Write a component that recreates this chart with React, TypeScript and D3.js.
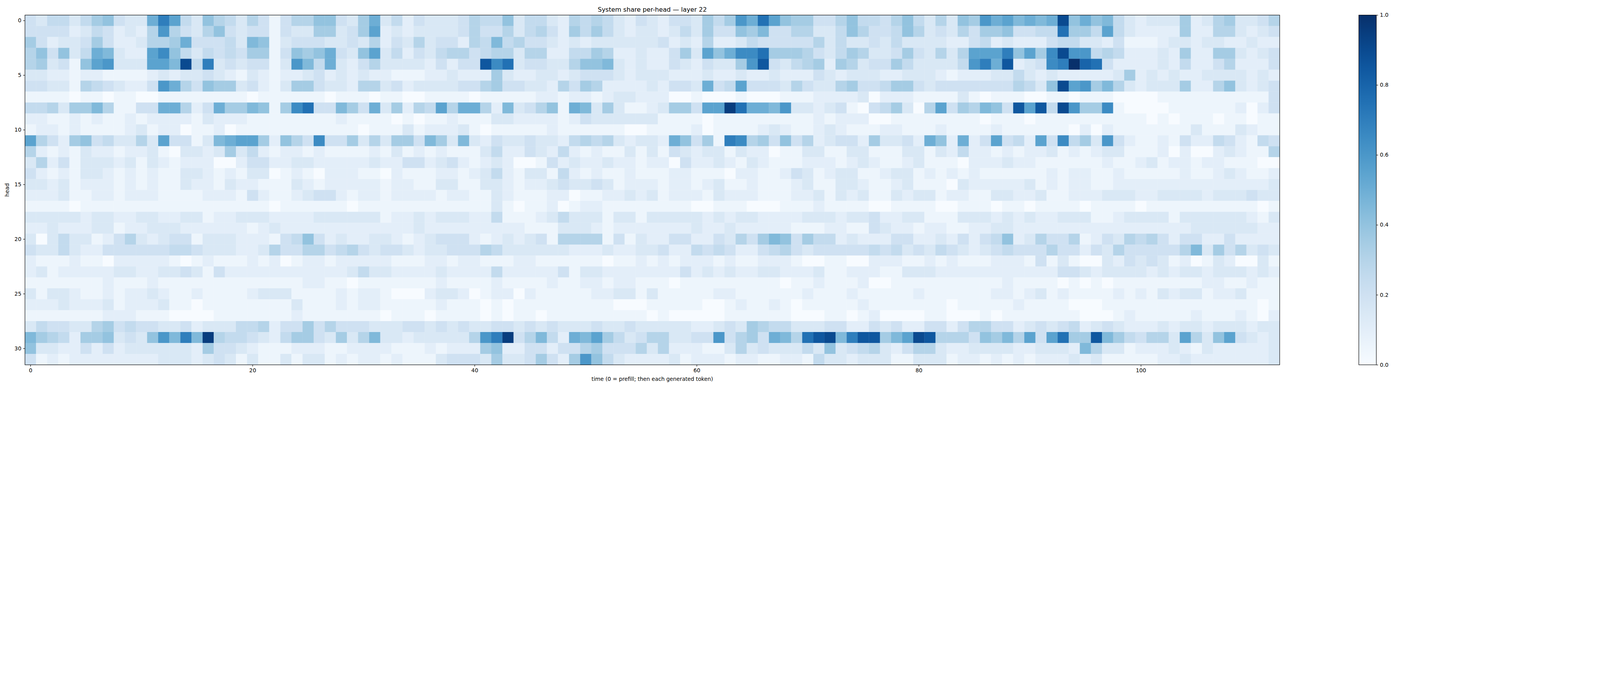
import * as d3 from "d3";
import { useEffect, useRef } from "react";

// each letter is one cell: a = 0.00, b = 0.05, c = 0.10 ... u = 1.00
// rows are heads 0..31, columns are time steps 0..112 (spaces are ignored)
const headRows: string[] = [
  "edffdfhieddkolfdigfdgebeggii edhkdfcedddegffidffdcgfgfdced ceedhfhmkplihheegiffegifdgdi hmkljkjksikijfdcdddhcdghddeg",
  "eeeecdfecdcgmgedgiedeebeddhh dehlcdcddddegeegdfgechfhfdcdd cdfdheeihjeeggddfigeefigdedg ehhieeffphhflfdcccchccggdcde",
  "hecddeheccdgghkeeefdjibdeeed dedgcedgdeecgfjfgeedcdcdddddd ecdcgccdfeeeeegdfddedfddddcc efcdccceffddcebbbcddcddccdcc",
  "gieidfkjdcclnifdfefehhbeihik edildfcedfggefggdggccffhgccdc cehdliknnphhhgedfhgddehedgdg llloilhnsmmfgfcccdchcchhdcde",
  "ghdebilmdddlljsfodedeebdmjfk dcegddddceceernpdeeddgiijdcdc cedceddhmredfghchgdeehfddddf mokrcdenouqpeccccdcfccegccce",
  "ddccbccbbbbcdcddedcbdcbccdec dcdccbbbccdccchdccddcdeeedcdd dcccdccdccdcccedcdddccdddcbc ccddfdcdcccccdhcdcdccddddcdc",
  "eeddbgfedccemkgeihhdecbdhhed dcggdecddddeegheeddcgehgccccd ceedkefleeedgeddgheefhhedeee eeeegfdislmhjgdcdddhccgidcde",
  "bbbbabbabbaabbbbbbbbabbbbbba bbbabbaabbbbabbbbbccbccbcddcc caabaaabaaabbbccccdacccbbbbd babbbaabbabbbaaaabbbbbbbbbbe",
  "ffgdhhjgbbeekkgcekhhjibhnpee jhekdhcgflgkkgcjdegibkjdhdbbc dhhelltpkkjmddcdebaefhdagleh gjierlrfsmhhnbaaaabbbbbbcace",
  "ccbbcbcbbcbccccbdcccbbbbbbbb cbbbbababbcbbbddccccbcedddddd bbbbabbbbbbbbbcbcccaabbbbbbb babbbabbbbbbbbbbababbbabbabb",
  "bccbcbbbbcdbccabbcabbbbbbbbb bbabbbdbcccdbabbbbbcbbbbbbaab bbbcabbbbcdcbbcdcbbbccbbbcbb bbcbbbbbbacacbbbbbbbdbbbdcbb",
  "lgechiefddgdleebdjkllhcigene ehdgdhhejhdjdceddeddcfgfgdcdd ckiehbongheiegcdeechddeckick celefclenfhdmecbbcbeccfecbfe",
  "gcbcbdccbccdbaddcdhdfcbccbcb bbbcbdbcbcbbbdfccedcfcbcbbdbd bedcddbdccabbddbbddbbbddbdcf ccbcbccdbcbcddbbbcacaacdcbbg",
  "dgcebdddcdbdcbcccaaceeccddcc cccdcceecdecbcdcaabecdccdccbc caeccdcbdcbbbcccbcdcbbcdbbba cccdccbbbbbbcbbcdbccbccbbbaa",
  "ecbcbddcbcbcbbddcbcbddabcbac ccbbacbbbccbcdfcbddbfcbcbbcbb bccbbbaccbbcedbcddbbcddbcbcb cbbbbbbcbccbbcbbbbbcbbcdcbbc",
  "ddcdbcccbcbcbbdccbdccbbbdcbc ccccbccbbddbbddcbccdeddedbccc bccbcdbbcbbbcdbbddcbbcdbbbad cccccdbcbccbbccccccccccccccd",
  "cccdbbccbcccbbbbcccbecbbcdee cbccbccccbccbbdcbbbccabbccdcd bcccbdcccbbbccdbdcdbbdcddbcc bbddccdbbcccdddccddddcdddedd",
  "bbbbabbbbbbbbbbbbbbbbbabbbbb babbbbbbbbbbbbdbabbcabccbbbbb bbbaabbbaaabbbcbbbbaabbbbaab bbabbabbbbabbbbabbbbbbbbbbab",
  "dddddcddccddccddbccdddccccdd ddddbccdcdddccfbbbcdfdddbddbd ddddcdcddccccdddcddeccddbbbd ddcdcdccdddbbcddddbddddddcbd",
  "ccdcccddbccdddccccccbcdccccc cccccccdcccccccccbbbdddcbcccc cccdccdcccccbbbccbbedccbccbb ccddccccccccccccccccddddddcc",
  "dadfddbcegdcdeebdddcccbefiec dccddcbcdeeecbcdcdebggggbebdc ceeccedgehjiehffcdccceeccdce ceficdgeegbcedgfgeceeccecccc",
  "eddfdcceeeeeeffedddccdgeegge fgedeedcddeeegfddddddcccdccdd eccfefeccefgedeeeeefefdedfed cdefeeegeecedgeeeeegjdhegded",
  "cbbbcbbacccccbabcbbbcbcabccb cccccbbbccbccbbbccbbbbbbabbcb cbcccbcbbcccbaabbaacccbbcbcb bbcccbebdbaadcededbcabdcaadb",
  "cdbcccccddccddedbecccccccccc cdfddccccdccccfcccccebddccccc ccecdcdccddcccdbbcccbbdddccc cccccccceedcddddcdcddcdddcdc",
  "bbbbbbbcbbbcbbbbbbbbbbbbbccb babbbbbbbcbbbbcbbbbcbbccbccbb babbbbbbbbbabbcbbbcaabbbbbbb bbbcbbbbabababbbbbbbbccbbcbb",
  "dbddcbbcbccdcbbcbbbbcdddbbbb cbccbaaacddcabccacbbbbbccddbd bbbbbccbbbbbbcbbbcbbbbbcbbbb bbccbcdbcbbbbcbcbdcddbccdbbb",
  "cccdcccdbcccdbbabbbbbbbbdbbb cbccbbbbbcbbbababbbbbbbbbaaab bbbbaabcbbcbabbbbbcbbbbbbbab bbbbcbbbbaaabbbbbbbbbbbbbbab",
  "bbbbbbbcccbbbaaaabbbbbbbcbbb bbbbabbbabbbbababbabbbbbbbbba baaaaabbbbbbaaabbabcaaaabbaa ababbbbbbbaaabcbbbbbcbbbcbac",
  "dfeeddghefeeddecdddffgceeheg eeedd deede dedde edede ddded dedd dddcc dedhg ffddd eecce decce ece ggeec dedef cdedc ccdcd dcddd cdd",
  "jhgfc hhide dimjo jtgff edcfh hed hdgjd dcddd ddgmo tegjf ckjlh fdeg gddee meghe kjgpr sjorr hjlsr ggg eihjg lelph hrjhf eggdl gdile dcd",
  "iddcc ececd ddddd cheed cbbbc ccb bcccc bbbcb ccchi cceec eeghe eegd gcccb bdgde dddfd idefg dcegg dcc ddddc cdddc jgddb cccdc bdccc ccd",
  "ebcbc ccccc ccddd cdedb dbbdb ddb cbccb cbbbd eeedh ddehe chmif dccc cdbcc cbccb bccbf ddcdd dbbdd dbc cbcbc bcccd cdbbb bbccd ccccc ccd",
];

const xTicks = [0, 20, 40, 60, 80, 100];
const yTicks = [0, 5, 10, 15, 20, 25, 30];
const cbTicks = [0.0, 0.2, 0.4, 0.6, 0.8, 1.0];
const title = "System share per-head \u2014 layer 22";
const xLabel = "time (0 = prefill; then each generated token)";
const yLabel = "head";

const values: number[][] = headRows.map(r =>
  r.replace(/\s/g, "").split("").map(ch => (ch.charCodeAt(0) - 97) * 0.05)
);

const W = 7118;
const H = 1728;

export default function App() {
  const svgRef = useRef<SVGSVGElement | null>(null);

  useEffect(() => {
    const margin = { top: 67, left: 111, right: 5693, bottom: 1623 };
    const nCols = d3.max(values, r => r.length) ?? 113;
    const nRows = values.length;
    const font = "DejaVu Sans, sans-serif";

    const svg = d3.select(svgRef.current);
    svg.selectAll("*").remove();
    svg.append("rect").attr("width", W).attr("height", H).attr("fill", "#fff");

    const x = d3.scaleLinear().domain([-0.5, nCols - 0.5]).range([margin.left, margin.right]);
    const y = d3.scaleLinear().domain([-0.5, nRows - 0.5]).range([margin.top, margin.bottom]);
    const color = d3.scaleSequential(d3.interpolateBlues).domain([0, 1]);

    const cells = values.flatMap((row, i) => row.map((v, j) => ({ i, j, v })));
    svg.append("g")
      .selectAll("rect")
      .data(cells)
      .join("rect")
      .attr("x", d => x(d.j - 0.5))
      .attr("y", d => y(d.i - 0.5))
      .attr("width", x(1) - x(0) + 0.6)
      .attr("height", y(1) - y(0) + 0.6)
      .attr("fill", d => color(d.v));

    const xAxis = svg.append("g")
      .attr("transform", `translate(0,${margin.bottom})`)
      .call(d3.axisBottom(x).tickValues(xTicks).tickSize(8).tickPadding(8).tickFormat(d3.format("d")));
    const yAxis = svg.append("g")
      .attr("transform", `translate(${margin.left},0)`)
      .call(d3.axisLeft(y).tickValues(yTicks).tickSize(8).tickPadding(8).tickFormat(d3.format("d")));
    [xAxis, yAxis].forEach(a => {
      a.select(".domain").remove();
      a.selectAll("line").attr("stroke", "#000").attr("stroke-width", 2);
      a.selectAll("text").attr("font-family", font).attr("font-size", 24).attr("fill", "#000");
    });

    svg.append("rect")
      .attr("x", margin.left).attr("y", margin.top)
      .attr("width", margin.right - margin.left).attr("height", margin.bottom - margin.top)
      .attr("fill", "none").attr("stroke", "#000").attr("stroke-width", 2);

    svg.append("text")
      .attr("x", (margin.left + margin.right) / 2).attr("y", 52)
      .attr("text-anchor", "middle").attr("font-family", font).attr("font-size", 28)
      .text(title);
    svg.append("text")
      .attr("x", (margin.left + margin.right) / 2).attr("y", 1694)
      .attr("text-anchor", "middle").attr("font-family", font).attr("font-size", 24)
      .text(xLabel);
    svg.append("text")
      .attr("transform", `translate(40,${(margin.top + margin.bottom) / 2}) rotate(-90)`)
      .attr("text-anchor", "middle").attr("font-family", font).attr("font-size", 24)
      .text(yLabel);

    // colorbar
    const cbX = 6045;
    const cbW = 78;
    const grad = svg.append("defs").append("linearGradient")
      .attr("id", "cbgrad").attr("x1", 0).attr("y1", 1).attr("x2", 0).attr("y2", 0);
    d3.range(0, 1.0001, 0.05).forEach(t => {
      grad.append("stop").attr("offset", t).attr("stop-color", color(t));
    });
    svg.append("rect")
      .attr("x", cbX).attr("y", margin.top)
      .attr("width", cbW).attr("height", margin.bottom - margin.top)
      .attr("fill", "url(#cbgrad)").attr("stroke", "#000").attr("stroke-width", 2);
    const cbScale = d3.scaleLinear().domain([0, 1]).range([margin.bottom, margin.top]);
    const cbAxis = svg.append("g")
      .attr("transform", `translate(${cbX + cbW},0)`)
      .call(d3.axisRight(cbScale).tickValues(cbTicks).tickSize(8).tickPadding(8).tickFormat(d3.format(".1f")));
    cbAxis.select(".domain").remove();
    cbAxis.selectAll("line").attr("stroke", "#000").attr("stroke-width", 2);
    cbAxis.selectAll("text").attr("font-family", font).attr("font-size", 24).attr("fill", "#000");
  }, []);

  return (
    <div style={{ position: "absolute", left: 0, top: 0, width: "100vw" }}>
      <svg
        ref={svgRef}
        viewBox={`0 0 ${W} ${H}`}
        preserveAspectRatio="xMinYMin meet"
        style={{ display: "block", width: "100%", height: "auto" }}
      />
    </div>
  );
}
